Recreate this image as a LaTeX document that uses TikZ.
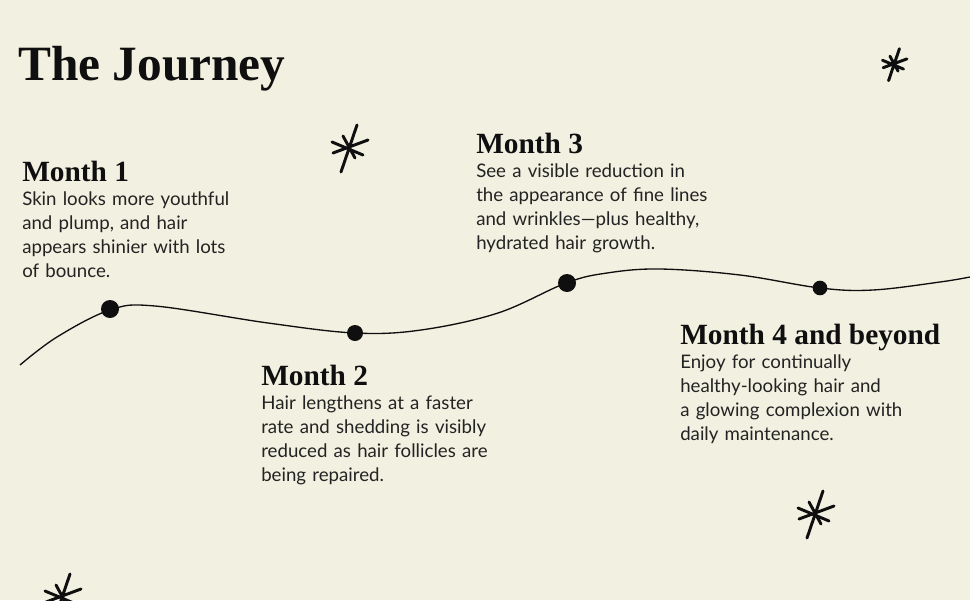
\documentclass[tikz,border=0pt]{standalone}
\usepackage{fontspec}
\setmainfont{Lato}
\newfontfamily\headfont{Liberation Serif}
\usetikzlibrary{positioning}
\definecolor{paper}{RGB}{242,240,224}
\definecolor{ink}{RGB}{15,15,15}
\definecolor{bodytext}{RGB}{35,35,35}

\begin{document}
\begin{tikzpicture}[x=0.75pt, y=-0.75pt,
    title/.style={anchor=base west, inner sep=0, font=\headfont\bfseries\fontsize{37}{40}\selectfont, text=ink},
    month/.style={anchor=base west, inner sep=0, font=\headfont\bfseries\fontsize{22}{24}\selectfont, text=ink},
    blurb/.style={inner sep=0, text width=280pt, align=left, font=\fontsize{14}{18}\selectfont, text=bodytext},
    dot/.style={circle, fill=ink, inner sep=0, minimum size=13.5pt},
    journey/.style={line width=1pt, draw=ink},
    sparkle/.pic={
        \draw[line width=2.2pt, ink, line cap=round]
            (-8,23) -- (8,-24)
            (-17,-7) -- (14,6)
            (-6,-13) -- (6,9)
            (-16,4) -- (19,-9);
    }
]
    % Background
    \fill[paper] (0,0) rectangle (970,600);
    \useasboundingbox (0,0) rectangle (970,600);

    % Title
    \node[title] (head) at (18,80) {The Journey};

    % Stars
    \pic at (349,149) {sparkle};
    \pic[scale=0.68] at (894,65) {sparkle};
    \pic at (815,515) {sparkle};
    \pic at (62,598) {sparkle};

    % Timeline
    \draw[journey] plot[smooth, tension=0.6] coordinates {
        (20,365) (57,337) (110,310) (155,306) (268,323) (355,333)
        (421,330) (498,313) (566,283) (607,273) (660,269) (740,275)
        (820,288) (873,290) (940,282) (970,277)};

    % Milestones
    \node[dot] (d1) at (110,309) {};
    \node[dot, minimum size=12pt] (d2) at (355,333) {};
    \node[dot] (d3) at (567,283) {};
    \node[dot, minimum size=11pt] (d4) at (820,288) {};

    % Months
    \node[month] (m1) at (22,181) {Month 1};
    \node[blurb, below=18pt of m1.base west, anchor=base west] (t1)
        {Skin looks more youthful\\and plump, and hair\\appears shinier with lots\\of bounce.};

    \node[month] (m2) at (261,385) {Month 2};
    \node[blurb, below=18pt of m2.base west, anchor=base west] (t2)
        {Hair lengthens at a faster\\rate and shedding is visibly\\reduced as hair follicles are\\being repaired.};

    \node[month] (m3) at (476,153) {Month 3};
    \node[blurb, below=18pt of m3.base west, anchor=base west] (t3)
        {See a visible reduction in\\the appearance of fine lines\\and wrinkles—plus healthy,\\hydrated hair growth.};

    \node[month] (m4) at (680,344) {Month 4 and beyond};
    \node[blurb, below=18pt of m4.base west, anchor=base west] (t4)
        {Enjoy for continually\\healthy-looking hair and\\a glowing complexion with\\daily maintenance.};
\end{tikzpicture}
\end{document}
